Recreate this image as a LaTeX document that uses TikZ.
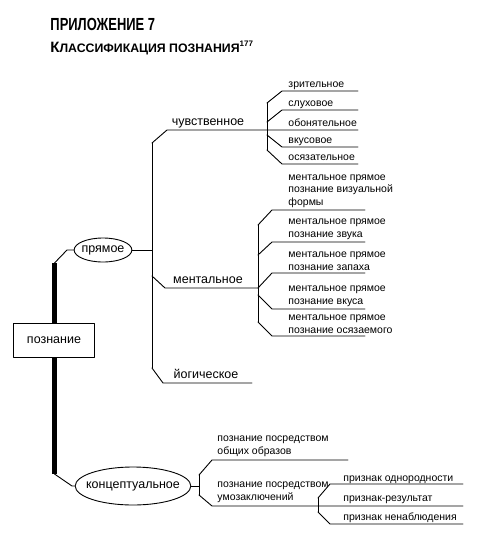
\documentclass[tikz,border=0pt]{standalone}
\usepackage{graphicx}
\usepackage{fontspec}
\setmainfont{Liberation Sans}
\usetikzlibrary{shapes.geometric}

\begin{document}
\begin{tikzpicture}[x=1pt, y=-1pt, line width=0.9pt, line cap=round, line join=round,
  every node/.style={inner sep=0pt, font=\fontsize{10.5}{12.5}\selectfont},
  leaf/.style={anchor=base west},
  leafm/.style={anchor=south west, align=left},
  mid/.style={anchor=base, font=\fontsize{12.5}{14}\selectfont},
  branch/.style={draw, ellipse, fill=white, font=\fontsize{12.5}{14}\selectfont},
  rootbox/.style={draw, fill=white, minimum width=81, minimum height=34, font=\fontsize{12.5}{14}\selectfont}]
  \useasboundingbox (0,0) rectangle (486,542);

  % title
  \node[anchor=base west, font=\bfseries\fontsize{17.5}{20}\selectfont] (title) at (50,30)
    {\scalebox{0.74}[1]{ПРИЛОЖЕНИЕ 7}};
  \node[anchor=base west, font=\bfseries] (subtitle) at (50,52)
    {{\fontsize{15}{16}\selectfont К}{\fontsize{12.3}{14}\selectfont ЛАССИФИКАЦИЯ ПОЗНАНИЯ}\raisebox{5.5pt}{\fontsize{8}{9}\selectfont 177}};

  % root and the thick bar
  \draw[line width=5pt, line cap=butt] (54.5,263) -- (54.5,474);
  \node[rootbox] (root) at (54,340) {познание};
  \node[branch, inner xsep=-1pt, minimum height=24] (direct) at (103,250) {прямое};
  \node[branch, inner xsep=-6pt, minimum height=38] (concept) at (133,486) {концептуальное};
  \draw (54.5,263) -- (67,250) -- (direct.west);
  \draw (54.5,474) -- (72,486) -- (concept.west);

  % direct knowledge
  \coordinate (dJ) at (152,250);
  \coordinate (dTop) at (152,143);
  \coordinate (dMid) at (152,276);
  \coordinate (dBot) at (152,368);
  \draw (direct.east) -- (dJ);
  \draw (dTop) -- (dBot);
  \draw (dTop) -- ++(15,-13) -- (358,130);
  \draw (dMid) -- ++(13,12) -- (258,288);
  \draw (dBot) -- ++(11,15) -- ++(89,0);
  \node[mid] (sens) at (208,125) {чувственное};
  \node[mid] (ment) at (208,283) {ментальное};
  \node[mid] (yog) at (206,378) {йогическое};

  % sensory
  \coordinate (s1) at (267,103);
  \coordinate (s2) at (267,122);
  \coordinate (s4) at (267,135);
  \coordinate (s5) at (267,150);
  \draw (s1) -- (s5);
  \draw (s1) -- ++(15,-12) -- ++(76,0);
  \draw (s2) -- ++(15,-12) -- ++(76,0);
  \draw (s4) -- ++(15,12) -- ++(76,0);
  \draw (s5) -- ++(15,14) -- ++(76,0);
  \node[leaf] (vis) at (288,87) {зрительное};
  \node[leaf] (aud) at (288,106) {слуховое};
  \node[leaf] (olf) at (288,126) {обонятельное};
  \node[leaf] (gus) at (288,143) {вкусовое};
  \node[leaf] (tac) at (288,160) {осязательное};

  % mental
  \coordinate (m1) at (258,225);
  \coordinate (m2) at (258,255);
  \coordinate (m3) at (258,288);
  \coordinate (m4) at (258,295);
  \coordinate (m5) at (258,322);
  \draw (m1) -- (m5);
  \draw (m1) -- ++(14,-15) -- ++(93,0);
  \draw (m2) -- ++(14,-13) -- ++(93,0);
  \draw (m3) -- ++(14,-15) -- ++(93,0);
  \draw (m4) -- ++(14,14) -- ++(93,0);
  \draw (m5) -- ++(14,14) -- ++(93,0);
  \node[leafm] (mvis) at (288,208) {ментальное прямое\\познание визуальной\\формы};
  \node[leafm] (maud) at (288,240) {ментальное прямое\\познание звука};
  \node[leafm] (molf) at (288,271) {ментальное прямое\\познание запаха};
  \node[leafm] (mgus) at (288,307) {ментальное прямое\\познание вкуса};
  \node[leafm] (mtac) at (288,334) {ментальное прямое\\познание осязаемого};

  % conceptual
  \coordinate (cJ) at (199,486);
  \coordinate (c1) at (199,475);
  \coordinate (c2) at (199,495);
  \draw (concept.east) -- (cJ);
  \draw (c1) -- (c2);
  \draw (c1) -- ++(13,-15) -- ++(136,0);
  \draw (c2) -- ++(13,11) -- ++(251,0);
  \node[leafm] (imag) at (217,457) {познание посредством\\общих образов};
  \node[leafm] (infer) at (217,503) {познание посредством\\умозаключений};

  % inference marks
  \coordinate (r1) at (318,498);
  \coordinate (r3) at (318,512);
  \draw (r1) -- (r3);
  \draw (r1) -- ++(12,-14) -- ++(133,0);
  \draw (r3) -- ++(12,12) -- ++(133,0);
  \node[leaf] (homo) at (343,481) {признак однородности};
  \node[leaf] (res) at (343,501) {признак-результат};
  \node[leaf] (nonobs) at (343,520) {признак ненаблюдения};
\end{tikzpicture}
\end{document}
